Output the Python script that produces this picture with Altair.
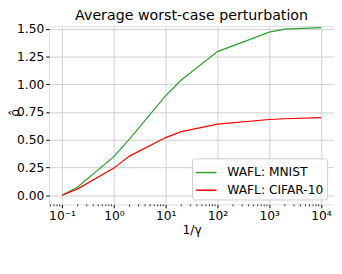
import altair as alt
import pandas as pd

x_vals = [0.1, 0.2, 1, 2, 10, 20, 100, 1000, 2000, 10000]
mnist = [0.0, 0.074, 0.348, 0.506, 0.898, 1.039, 1.295, 1.471, 1.497, 1.512]
cifar = [0.0, 0.058, 0.245, 0.353, 0.52, 0.574, 0.642, 0.683, 0.69, 0.70]
series_names = ["WAFL: MNIST", "WAFL: CIFAR-10"]
series_colors = ["#2ca02c", "#ff0000"]
x_ticks = [0.1, 1, 10, 100, 1000, 10000]
x_tick_labels = ["10⁻¹", "10⁰", "10¹", "10²", "10³", "10⁴"]
y_ticks = [0, 0.25, 0.5, 0.75, 1.0, 1.25, 1.5]
minor_ticks = [m * 10.0 ** k for k in range(-2, 5) for m in range(2, 10)]
x_domain = [10 ** -1.25, 10 ** 4.25]
y_domain = [-0.082, 1.524]

rows = []
for name, vals in zip(series_names, [mnist, cifar]):
    for xv, yv in zip(x_vals, vals):
        rows.append({"x": xv, "y": yv, "series": name})
df = pd.DataFrame(rows)
minor_df = pd.DataFrame({"x": [m for m in minor_ticks if x_domain[0] <= m <= x_domain[1] and m not in x_ticks]})

FONT = "DejaVu Sans"
W, H = 291, 182

label_expr = "[" + ",".join("'%s'" % s for s in x_tick_labels) + "][round(log(datum.value)/LN10)+1]"

xscale = alt.Scale(type="log", domain=x_domain, nice=False)
yscale = alt.Scale(domain=y_domain, nice=False, zero=False)

lines = alt.Chart(df).mark_line(strokeWidth=1.2, clip=True).encode(
    x=alt.X("x:Q", scale=xscale, axis=alt.Axis(
        values=x_ticks, labelExpr=label_expr, title="1/γ", grid=True,
        gridColor="#d0d0d0", gridWidth=1, domain=False, tickColor="black",
        tickSize=3.5, labelFontSize=12.5, labelFont=FONT, labelColor="black",
        labelPadding=2, titleFont=FONT, titleFontSize=12.5, titleFontWeight="normal",
        titleColor="black", titlePadding=2, labelFlush=False)),
    y=alt.Y("y:Q", scale=yscale, axis=alt.Axis(
        values=y_ticks, format=".2f", title="ρ̂", grid=True, gridColor="#d0d0d0",
        gridWidth=1, domain=False, tickColor="black", tickSize=3.5,
        labelFontSize=12.5, labelFont=FONT, labelColor="black", labelPadding=2,
        titleFont=FONT, titleFontSize=13, titleFontWeight="normal", titleColor="black",
        titleX=-28, titleY=88, labelFlush=False)),
    color=alt.Color("series:N", sort=series_names,
                    scale=alt.Scale(domain=series_names, range=series_colors),
                    legend=alt.Legend(
                        title=None, orient="none", legendX=146, legendY=135,
                        symbolType="stroke", symbolSize=441, symbolStrokeWidth=1.5,
                        labelFont=FONT, labelFontSize=12.5, labelColor="black",
                        labelOffset=10, padding=3, rowPadding=-3,
                        fillColor="rgba(255,255,255,0.8)", strokeColor="#cccccc",
                        cornerRadius=3)),
)

minor = alt.Chart(minor_df).mark_rule(color="black", strokeWidth=0.8).encode(
    x=alt.X("x:Q", scale=xscale),
    y=alt.value(H),
    y2=alt.value(H + 2),
)

chart = alt.layer(minor, lines).properties(
    width=W, height=H,
    title=alt.TitleParams("Average worst-case perturbation", font=FONT, fontSize=14.5,
                          fontWeight="normal", color="black", anchor="middle", offset=0),
    autosize=alt.AutoSizeParams(type="none"),
    padding={"left": 42, "top": 16, "right": 0, "bottom": 44},
).configure_view(stroke="black", strokeWidth=1).configure(background="white")

chart.save("out.html", embed_options={"renderer": "svg", "actions": False})
